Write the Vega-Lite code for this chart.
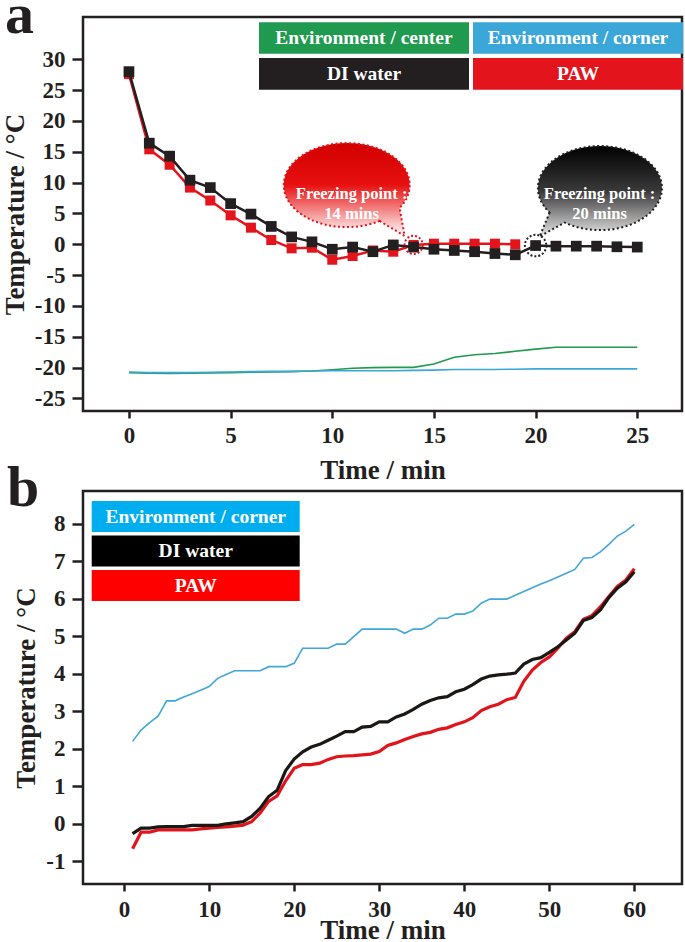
{
  "$schema": "https://vega.github.io/schema/vega-lite/v6.json",
  "background": "white",
  "padding": {"left": 0, "top": -15, "right": 0, "bottom": 0},
  "spacing": -27,
  "config": {
    "font": "Liberation Serif",
    "view": {"stroke": "#231f20", "strokeWidth": 2.5},
    "axis": {"domain": false, "grid": false, "ticks": true, "tickColor": "#231f20", "tickWidth": 2.5, "labelFont": "Liberation Serif", "labelFontSize": 23, "labelFontWeight": "bold", "labelColor": "#231f20", "titleFont": "Liberation Serif", "titleFontWeight": "bold", "titleColor": "#231f20", "labelExpr": "'' + datum.value", "labelOverlap": false, "labelFlush": false},
    "axisX": {"titleFontSize": 27},
    "axisY": {"titleFontSize": 27},
    "legend": {"padding": 0}
  },
  "resolve": {"scale": {"color": "independent"}, "legend": {"color": "independent"}},
  "datasets": {
    "a": [
      {"t":0,"s":"DI water","v":28.0},{"t":1,"s":"DI water","v":16.4},{"t":2,"s":"DI water","v":14.3},{"t":3,"s":"DI water","v":10.4},{"t":4,"s":"DI water","v":9.2},{"t":5,"s":"DI water","v":6.6},{"t":6,"s":"DI water","v":4.9},{"t":7,"s":"DI water","v":2.9},{"t":8,"s":"DI water","v":1.2},{"t":9,"s":"DI water","v":0.4},{"t":10,"s":"DI water","v":-0.8},{"t":11,"s":"DI water","v":-0.45},{"t":12,"s":"DI water","v":-1.2},{"t":13,"s":"DI water","v":-0.1},{"t":14,"s":"DI water","v":-0.45},{"t":15,"s":"DI water","v":-0.8},{"t":16,"s":"DI water","v":-1.0},{"t":17,"s":"DI water","v":-1.2},{"t":18,"s":"DI water","v":-1.5},{"t":19,"s":"DI water","v":-1.7},{"t":20,"s":"DI water","v":-0.2},{"t":21,"s":"DI water","v":-0.3},{"t":22,"s":"DI water","v":-0.3},{"t":23,"s":"DI water","v":-0.3},{"t":24,"s":"DI water","v":-0.4},{"t":25,"s":"DI water","v":-0.45},
      {"t":0,"s":"PAW","v":27.6},{"t":1,"s":"PAW","v":15.4},{"t":2,"s":"PAW","v":12.9},{"t":3,"s":"PAW","v":9.2},{"t":4,"s":"PAW","v":7.1},{"t":5,"s":"PAW","v":4.7},{"t":6,"s":"PAW","v":2.7},{"t":7,"s":"PAW","v":0.7},{"t":8,"s":"PAW","v":-0.65},{"t":9,"s":"PAW","v":-0.55},{"t":10,"s":"PAW","v":-2.5},{"t":11,"s":"PAW","v":-1.9},{"t":12,"s":"PAW","v":-1.0},{"t":13,"s":"PAW","v":-1.2},{"t":14,"s":"PAW","v":-0.1},{"t":15,"s":"PAW","v":0.1},{"t":16,"s":"PAW","v":0.1},{"t":17,"s":"PAW","v":0.1},{"t":18,"s":"PAW","v":0.1},{"t":19,"s":"PAW","v":0.0},
      {"t":0,"s":"Environment / center","v":-20.8},{"t":1,"s":"Environment / center","v":-20.9},{"t":2,"s":"Environment / center","v":-20.95},{"t":3,"s":"Environment / center","v":-20.9},{"t":4,"s":"Environment / center","v":-20.85},{"t":5,"s":"Environment / center","v":-20.8},{"t":6,"s":"Environment / center","v":-20.75},{"t":7,"s":"Environment / center","v":-20.7},{"t":8,"s":"Environment / center","v":-20.65},{"t":9,"s":"Environment / center","v":-20.55},{"t":10,"s":"Environment / center","v":-20.35},{"t":11,"s":"Environment / center","v":-20.1},{"t":12,"s":"Environment / center","v":-20.0},{"t":13,"s":"Environment / center","v":-19.95},{"t":14,"s":"Environment / center","v":-19.95},{"t":15,"s":"Environment / center","v":-19.4},{"t":16,"s":"Environment / center","v":-18.3},{"t":17,"s":"Environment / center","v":-17.9},{"t":18,"s":"Environment / center","v":-17.7},{"t":19,"s":"Environment / center","v":-17.35},{"t":20,"s":"Environment / center","v":-17.0},{"t":21,"s":"Environment / center","v":-16.7},{"t":22,"s":"Environment / center","v":-16.7},{"t":23,"s":"Environment / center","v":-16.7},{"t":24,"s":"Environment / center","v":-16.7},{"t":25,"s":"Environment / center","v":-16.7},
      {"t":0,"s":"Environment / corner","v":-20.7},{"t":1,"s":"Environment / corner","v":-20.8},{"t":2,"s":"Environment / corner","v":-20.8},{"t":3,"s":"Environment / corner","v":-20.8},{"t":4,"s":"Environment / corner","v":-20.75},{"t":5,"s":"Environment / corner","v":-20.7},{"t":6,"s":"Environment / corner","v":-20.65},{"t":7,"s":"Environment / corner","v":-20.6},{"t":8,"s":"Environment / corner","v":-20.6},{"t":9,"s":"Environment / corner","v":-20.55},{"t":10,"s":"Environment / corner","v":-20.5},{"t":11,"s":"Environment / corner","v":-20.5},{"t":12,"s":"Environment / corner","v":-20.5},{"t":13,"s":"Environment / corner","v":-20.5},{"t":14,"s":"Environment / corner","v":-20.45},{"t":15,"s":"Environment / corner","v":-20.4},{"t":16,"s":"Environment / corner","v":-20.3},{"t":17,"s":"Environment / corner","v":-20.3},{"t":18,"s":"Environment / corner","v":-20.3},{"t":19,"s":"Environment / corner","v":-20.25},{"t":20,"s":"Environment / corner","v":-20.2},{"t":21,"s":"Environment / corner","v":-20.2},{"t":22,"s":"Environment / corner","v":-20.2},{"t":23,"s":"Environment / corner","v":-20.2},{"t":24,"s":"Environment / corner","v":-20.2},{"t":25,"s":"Environment / corner","v":-20.2}
    ],
    "b": [
      {"t":1,"s":"Environment / corner","v":2.2},{"t":2,"s":"Environment / corner","v":2.5},{"t":3,"s":"Environment / corner","v":2.7},{"t":4,"s":"Environment / corner","v":2.87},{"t":5,"s":"Environment / corner","v":3.28},{"t":6,"s":"Environment / corner","v":3.28},{"t":7,"s":"Environment / corner","v":3.38},{"t":8,"s":"Environment / corner","v":3.47},{"t":9,"s":"Environment / corner","v":3.56},{"t":10,"s":"Environment / corner","v":3.66},{"t":11,"s":"Environment / corner","v":3.88},{"t":12,"s":"Environment / corner","v":3.98},{"t":13,"s":"Environment / corner","v":4.08},{"t":14,"s":"Environment / corner","v":4.08},{"t":15,"s":"Environment / corner","v":4.08},{"t":16,"s":"Environment / corner","v":4.08},{"t":17,"s":"Environment / corner","v":4.19},{"t":18,"s":"Environment / corner","v":4.19},{"t":19,"s":"Environment / corner","v":4.19},{"t":20,"s":"Environment / corner","v":4.28},{"t":21,"s":"Environment / corner","v":4.68},{"t":22,"s":"Environment / corner","v":4.68},{"t":23,"s":"Environment / corner","v":4.68},{"t":24,"s":"Environment / corner","v":4.68},{"t":25,"s":"Environment / corner","v":4.79},{"t":26,"s":"Environment / corner","v":4.79},{"t":27,"s":"Environment / corner","v":4.99},{"t":28,"s":"Environment / corner","v":5.19},{"t":29,"s":"Environment / corner","v":5.19},{"t":30,"s":"Environment / corner","v":5.19},{"t":31,"s":"Environment / corner","v":5.19},{"t":32,"s":"Environment / corner","v":5.19},{"t":33,"s":"Environment / corner","v":5.08},{"t":34,"s":"Environment / corner","v":5.19},{"t":35,"s":"Environment / corner","v":5.19},{"t":36,"s":"Environment / corner","v":5.3},{"t":37,"s":"Environment / corner","v":5.48},{"t":38,"s":"Environment / corner","v":5.48},{"t":39,"s":"Environment / corner","v":5.59},{"t":40,"s":"Environment / corner","v":5.59},{"t":41,"s":"Environment / corner","v":5.67},{"t":42,"s":"Environment / corner","v":5.88},{"t":43,"s":"Environment / corner","v":5.99},{"t":44,"s":"Environment / corner","v":5.99},{"t":45,"s":"Environment / corner","v":5.99},{"t":46,"s":"Environment / corner","v":6.09},{"t":47,"s":"Environment / corner","v":6.19},{"t":48,"s":"Environment / corner","v":6.29},{"t":49,"s":"Environment / corner","v":6.39},{"t":50,"s":"Environment / corner","v":6.48},{"t":51,"s":"Environment / corner","v":6.58},{"t":52,"s":"Environment / corner","v":6.68},{"t":53,"s":"Environment / corner","v":6.78},{"t":54,"s":"Environment / corner","v":7.08},{"t":55,"s":"Environment / corner","v":7.1},{"t":56,"s":"Environment / corner","v":7.25},{"t":57,"s":"Environment / corner","v":7.45},{"t":58,"s":"Environment / corner","v":7.67},{"t":59,"s":"Environment / corner","v":7.8},{"t":60,"s":"Environment / corner","v":7.98},
      {"t":1,"s":"DI water","v":-0.26},{"t":2,"s":"DI water","v":-0.11},{"t":3,"s":"DI water","v":-0.11},{"t":4,"s":"DI water","v":-0.08},{"t":5,"s":"DI water","v":-0.07},{"t":6,"s":"DI water","v":-0.07},{"t":7,"s":"DI water","v":-0.07},{"t":8,"s":"DI water","v":-0.04},{"t":9,"s":"DI water","v":-0.04},{"t":10,"s":"DI water","v":-0.04},{"t":11,"s":"DI water","v":-0.04},{"t":12,"s":"DI water","v":0.0},{"t":13,"s":"DI water","v":0.03},{"t":14,"s":"DI water","v":0.06},{"t":15,"s":"DI water","v":0.2},{"t":16,"s":"DI water","v":0.42},{"t":17,"s":"DI water","v":0.73},{"t":18,"s":"DI water","v":0.9},{"t":19,"s":"DI water","v":1.42},{"t":20,"s":"DI water","v":1.73},{"t":21,"s":"DI water","v":1.92},{"t":22,"s":"DI water","v":2.05},{"t":23,"s":"DI water","v":2.12},{"t":24,"s":"DI water","v":2.23},{"t":25,"s":"DI water","v":2.34},{"t":26,"s":"DI water","v":2.46},{"t":27,"s":"DI water","v":2.46},{"t":28,"s":"DI water","v":2.58},{"t":29,"s":"DI water","v":2.6},{"t":30,"s":"DI water","v":2.72},{"t":31,"s":"DI water","v":2.72},{"t":32,"s":"DI water","v":2.85},{"t":33,"s":"DI water","v":2.93},{"t":34,"s":"DI water","v":3.05},{"t":35,"s":"DI water","v":3.19},{"t":36,"s":"DI water","v":3.29},{"t":37,"s":"DI water","v":3.36},{"t":38,"s":"DI water","v":3.39},{"t":39,"s":"DI water","v":3.52},{"t":40,"s":"DI water","v":3.59},{"t":41,"s":"DI water","v":3.71},{"t":42,"s":"DI water","v":3.86},{"t":43,"s":"DI water","v":3.94},{"t":44,"s":"DI water","v":3.97},{"t":45,"s":"DI water","v":3.99},{"t":46,"s":"DI water","v":4.02},{"t":47,"s":"DI water","v":4.26},{"t":48,"s":"DI water","v":4.38},{"t":49,"s":"DI water","v":4.43},{"t":50,"s":"DI water","v":4.57},{"t":51,"s":"DI water","v":4.72},{"t":52,"s":"DI water","v":4.9},{"t":53,"s":"DI water","v":5.08},{"t":54,"s":"DI water","v":5.42},{"t":55,"s":"DI water","v":5.5},{"t":56,"s":"DI water","v":5.7},{"t":57,"s":"DI water","v":6.03},{"t":58,"s":"DI water","v":6.28},{"t":59,"s":"DI water","v":6.45},{"t":60,"s":"DI water","v":6.72},
      {"t":1,"s":"PAW","v":-0.66},{"t":2,"s":"PAW","v":-0.22},{"t":3,"s":"PAW","v":-0.22},{"t":4,"s":"PAW","v":-0.16},{"t":5,"s":"PAW","v":-0.16},{"t":6,"s":"PAW","v":-0.16},{"t":7,"s":"PAW","v":-0.16},{"t":8,"s":"PAW","v":-0.16},{"t":9,"s":"PAW","v":-0.13},{"t":10,"s":"PAW","v":-0.11},{"t":11,"s":"PAW","v":-0.09},{"t":12,"s":"PAW","v":-0.08},{"t":13,"s":"PAW","v":-0.06},{"t":14,"s":"PAW","v":-0.03},{"t":15,"s":"PAW","v":0.06},{"t":16,"s":"PAW","v":0.29},{"t":17,"s":"PAW","v":0.6},{"t":18,"s":"PAW","v":0.75},{"t":19,"s":"PAW","v":1.15},{"t":20,"s":"PAW","v":1.48},{"t":21,"s":"PAW","v":1.58},{"t":22,"s":"PAW","v":1.58},{"t":23,"s":"PAW","v":1.62},{"t":24,"s":"PAW","v":1.72},{"t":25,"s":"PAW","v":1.79},{"t":26,"s":"PAW","v":1.81},{"t":27,"s":"PAW","v":1.82},{"t":28,"s":"PAW","v":1.84},{"t":29,"s":"PAW","v":1.86},{"t":30,"s":"PAW","v":1.93},{"t":31,"s":"PAW","v":2.09},{"t":32,"s":"PAW","v":2.16},{"t":33,"s":"PAW","v":2.25},{"t":34,"s":"PAW","v":2.33},{"t":35,"s":"PAW","v":2.4},{"t":36,"s":"PAW","v":2.44},{"t":37,"s":"PAW","v":2.52},{"t":38,"s":"PAW","v":2.56},{"t":39,"s":"PAW","v":2.65},{"t":40,"s":"PAW","v":2.72},{"t":41,"s":"PAW","v":2.83},{"t":42,"s":"PAW","v":3.02},{"t":43,"s":"PAW","v":3.12},{"t":44,"s":"PAW","v":3.19},{"t":45,"s":"PAW","v":3.31},{"t":46,"s":"PAW","v":3.37},{"t":47,"s":"PAW","v":3.8},{"t":48,"s":"PAW","v":4.1},{"t":49,"s":"PAW","v":4.3},{"t":50,"s":"PAW","v":4.45},{"t":51,"s":"PAW","v":4.68},{"t":52,"s":"PAW","v":4.95},{"t":53,"s":"PAW","v":5.12},{"t":54,"s":"PAW","v":5.45},{"t":55,"s":"PAW","v":5.55},{"t":56,"s":"PAW","v":5.78},{"t":57,"s":"PAW","v":6.06},{"t":58,"s":"PAW","v":6.33},{"t":59,"s":"PAW","v":6.5},{"t":60,"s":"PAW","v":6.8}
    ]
  },
  "vconcat": [
    {
      "width": 599,
      "height": 394,
      "title": {"text": "a", "anchor": "start", "frame": "group", "orient": "top", "baseline": "alphabetic", "offset": -74, "dx": -78, "fontSize": 58, "font": "Liberation Serif", "fontWeight": "bold", "color": "#231f20"},
      "data": {"name": "a"},
      "encoding": {
        "x": {"field": "t", "type": "quantitative", "scale": {"domain": [-2.26, 27.2], "nice": false, "zero": false}, "axis": {"values": [0, 5, 10, 15, 20, 25], "title": "Time / min", "tickSize": 7, "labelPadding": 6, "titlePadding": 10}},
        "y": {"field": "v", "type": "quantitative", "scale": {"domain": [-27.03, 36.86], "nice": false, "zero": false}, "axis": {"values": [-25, -20, -15, -10, -5, 0, 5, 10, 15, 20, 25, 30], "title": "Temperature / °C", "tickSize": 11, "labelPadding": 7, "titlePadding": 5}}
      },
      "layer": [
        {
          "transform": [{"filter": "indexof(datum.s, 'Environment') == 0"}],
          "mark": {"type": "line", "strokeWidth": 1.6},
          "encoding": {
            "color": {"field": "s", "type": "nominal",
              "scale": {"domain": ["Environment / center", "DI water", "Environment / corner", "PAW"], "range": ["#1f9a4f", "#231f20", "#3ba7d9", "#e3141c"]},
              "legend": {"orient": "none", "legendX": 176, "legendY": 5, "columns": 2, "title": null, "symbolType": "M-1,-0.151H1V0.151H-1Z", "symbolSize": 44100, "symbolStrokeWidth": 0, "labelFont": "Liberation Serif", "labelFontSize": 19.5, "labelFontWeight": "bold", "labelColor": "white", "labelAlign": "center", "labelBaseline": "middle", "labelOffset": -105, "labelLimit": 0, "columnPadding": 4, "rowPadding": 3,
                "encode": {
                  "symbols": {"update": {"y": {"value": 15.85}, "fill": {"signal": "datum.value == 'Environment / center' ? '#00a651' : datum.value == 'Environment / corner' ? '#00aeef' : datum.value == 'PAW' ? '#ff0000' : '#000000'"}, "stroke": {"value": "transparent"}, "opacity": {"value": 1}, "fillOpacity": {"value": 1}}},
                  "labels": {"update": {"y": {"value": 15.85}}}
                }}
            }
          }
        },
        {
          "transform": [{"filter": "datum.s == 'PAW'"}],
          "mark": {"type": "line", "strokeWidth": 2.5},
          "encoding": {"color": {"field": "s", "type": "nominal", "scale": {"domain": ["Environment / center", "DI water", "Environment / corner", "PAW"], "range": ["#1f9a4f", "#231f20", "#3ba7d9", "#e3141c"]}}}
        },
        {
          "transform": [{"filter": "datum.s == 'PAW'"}],
          "mark": {"type": "point", "shape": "square", "filled": true, "size": 100, "opacity": 1},
          "encoding": {"color": {"field": "s", "type": "nominal", "scale": {"domain": ["Environment / center", "DI water", "Environment / corner", "PAW"], "range": ["#1f9a4f", "#231f20", "#3ba7d9", "#e3141c"]}}}
        },
        {
          "transform": [{"filter": "datum.s == 'DI water'"}],
          "mark": {"type": "line", "strokeWidth": 2.5},
          "encoding": {"color": {"field": "s", "type": "nominal", "scale": {"domain": ["Environment / center", "DI water", "Environment / corner", "PAW"], "range": ["#1f9a4f", "#231f20", "#3ba7d9", "#e3141c"]}}}
        },
        {
          "transform": [{"filter": "datum.s == 'DI water'"}],
          "mark": {"type": "point", "shape": "square", "filled": true, "size": 115, "opacity": 1},
          "encoding": {"color": {"field": "s", "type": "nominal", "scale": {"domain": ["Environment / center", "DI water", "Environment / corner", "PAW"], "range": ["#1f9a4f", "#231f20", "#3ba7d9", "#e3141c"]}}}
        },
        {
          "transform": [{"filter": "datum.s == 'PAW' && datum.t == 14"}],
          "mark": {"type": "point", "shape": "circle", "filled": false, "size": 330, "color": "#e3141c", "strokeWidth": 2, "strokeDash": [2, 2], "opacity": 1}
        },
        {
          "transform": [{"filter": "datum.s == 'DI water' && datum.t == 20"}],
          "mark": {"type": "point", "shape": "circle", "filled": false, "size": 460, "color": "#231f20", "strokeWidth": 2, "strokeDash": [2, 2], "opacity": 1}
        },
        {
          "transform": [{"filter": "datum.s == 'PAW' && datum.t == 14"}],
          "mark": {"type": "point", "shape": "M -0.34 -0.24 L -0.09 -0.09 L -0.14 -0.37 A 0.63 0.42 0 1 0 -0.34 -0.24 Z", "size": 40000, "filled": true, "opacity": 1,
            "fill": {"gradient": "linear", "x1": 0, "y1": 0, "x2": 0, "y2": 1, "stops": [{"offset": 0, "color": "#d10000"}, {"offset": 0.45, "color": "#e81010"}, {"offset": 1, "color": "#ffffff"}]},
            "stroke": "#e3141c", "strokeWidth": 2, "strokeDash": [2, 2.5]}
        },
        {
          "transform": [{"filter": "datum.s == 'DI water' && datum.t == 20"}],
          "mark": {"type": "point", "shape": "M 0.14 -0.33 L 0.04 -0.09 L 0.29 -0.23 A 0.62 0.42 0 1 0 0.14 -0.33 Z", "size": 40000, "filled": true, "opacity": 1,
            "fill": {"gradient": "linear", "x1": 0, "y1": 0, "x2": 0, "y2": 1, "stops": [{"offset": 0, "color": "#000000"}, {"offset": 0.5, "color": "#3a3a3a"}, {"offset": 1, "color": "#e6e6e6"}]},
            "stroke": "#231f20", "strokeWidth": 2, "strokeDash": [2, 2.5]}
        },
        {
          "transform": [{"filter": "datum.s == 'PAW' && datum.t == 14"}],
          "mark": {"type": "text", "text": ["Freezing point :", "14 mins"], "dx": -62, "dy": -51, "font": "Liberation Serif", "fontWeight": "bold", "fontSize": 16.5, "lineHeight": 20, "color": "white", "align": "center", "baseline": "middle"}
        },
        {
          "transform": [{"filter": "datum.s == 'DI water' && datum.t == 20"}],
          "mark": {"type": "text", "text": ["Freezing point :", "20 mins"], "dx": 64, "dy": -52, "font": "Liberation Serif", "fontWeight": "bold", "fontSize": 16.5, "lineHeight": 20, "color": "white", "align": "center", "baseline": "middle"}
        }
      ]
    },
    {
      "width": 599,
      "height": 393,
      "title": {"text": "b", "anchor": "start", "frame": "group", "orient": "top", "baseline": "alphabetic", "offset": -73, "dx": -76, "fontSize": 58, "font": "Liberation Serif", "fontWeight": "bold", "color": "#231f20"},
      "data": {"name": "b"},
      "encoding": {
        "x": {"field": "t", "type": "quantitative", "scale": {"domain": [-4.83, 65.6], "nice": false, "zero": false}, "axis": {"values": [0, 10, 20, 30, 40, 50, 60], "title": "Time / min", "tickSize": 7, "labelPadding": 7, "titlePadding": -4}},
        "y": {"field": "v", "type": "quantitative", "scale": {"domain": [-1.6, 8.87], "nice": false, "zero": false}, "axis": {"values": [-1, 0, 1, 2, 3, 4, 5, 6, 7, 8], "title": "Temperature / °C", "tickSize": 11, "labelPadding": 7, "titlePadding": 5}}
      },
      "layer": [
        {
          "transform": [{"filter": "datum.s == 'Environment / corner'"}],
          "mark": {"type": "line", "strokeWidth": 1.6},
          "encoding": {
            "color": {"field": "s", "type": "nominal",
              "scale": {"domain": ["Environment / corner", "DI water", "PAW"], "range": ["#41a7d8", "#1a1715", "#e2141b"]},
              "legend": {"orient": "none", "legendX": 8.7, "legendY": 10, "columns": 1, "title": null, "symbolType": "M-1,-0.149H1V0.149H-1Z", "symbolSize": 43264, "symbolStrokeWidth": 0, "labelFont": "Liberation Serif", "labelFontSize": 19.5, "labelFontWeight": "bold", "labelColor": "white", "labelAlign": "center", "labelBaseline": "middle", "labelOffset": -104, "labelLimit": 0, "rowPadding": 3.5,
                "encode": {
                  "symbols": {"update": {"y": {"value": 15.5}, "fill": {"signal": "datum.value == 'Environment / center' ? '#00a651' : datum.value == 'Environment / corner' ? '#00aeef' : datum.value == 'PAW' ? '#ff0000' : '#000000'"}, "stroke": {"value": "transparent"}, "opacity": {"value": 1}, "fillOpacity": {"value": 1}}},
                  "labels": {"update": {"y": {"value": 15.5}}}
                }}
            }
          }
        },
        {
          "transform": [{"filter": "datum.s == 'PAW'"}],
          "mark": {"type": "line", "strokeWidth": 3.2},
          "encoding": {"color": {"field": "s", "type": "nominal", "scale": {"domain": ["Environment / corner", "DI water", "PAW"], "range": ["#41a7d8", "#1a1715", "#e2141b"]}}}
        },
        {
          "transform": [{"filter": "datum.s == 'DI water'"}],
          "mark": {"type": "line", "strokeWidth": 3.2},
          "encoding": {"color": {"field": "s", "type": "nominal", "scale": {"domain": ["Environment / corner", "DI water", "PAW"], "range": ["#41a7d8", "#1a1715", "#e2141b"]}}}
        }
      ]
    }
  ]
}
